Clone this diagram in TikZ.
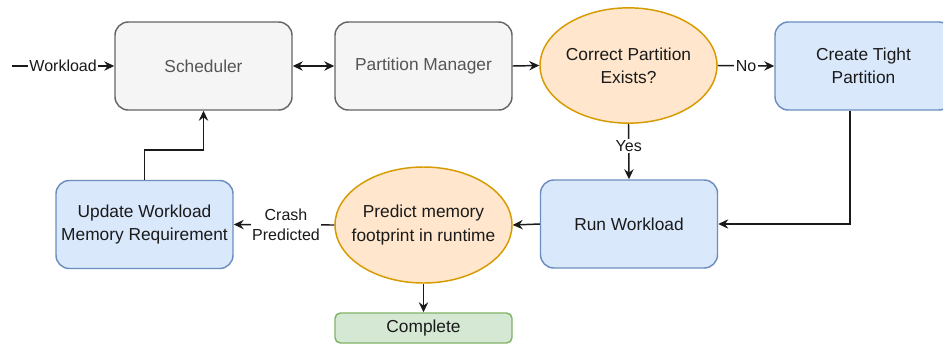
\documentclass[tikz,border=0pt]{standalone}
\usepackage{fontspec}
\setmainfont{Liberation Sans}
\usetikzlibrary{arrows.meta,shapes.geometric,calc}
\definecolor{grayfill}{HTML}{F5F5F5}
\definecolor{graystroke}{HTML}{666666}
\definecolor{graytext}{HTML}{555555}
\definecolor{bluefill}{HTML}{DAE8FC}
\definecolor{bluestroke}{HTML}{6C8EBF}
\definecolor{orangefill}{HTML}{FFE6CC}
\definecolor{orangestroke}{HTML}{D79B00}
\definecolor{greenfill}{HTML}{D5E8D4}
\definecolor{greenstroke}{HTML}{82B366}
\definecolor{txt}{HTML}{1A1A1A}
\tikzset{
  base/.style={line width=1.1pt, align=center, text=txt, font=\fontsize{13}{17.5}\selectfont, inner sep=0pt},
  graybox/.style={base, rectangle, rounded corners=10pt, draw=graystroke, fill=grayfill, text=graytext, minimum width=132.75pt, minimum height=66pt},
  bluebox/.style={base, rectangle, rounded corners=10pt, draw=bluestroke, fill=bluefill, minimum width=132.75pt, minimum height=66pt},
  orangeell/.style={base, ellipse, inner xsep=-18pt, inner ysep=-4pt, draw=orangestroke, fill=orangefill, minimum width=132.75pt, minimum height=86.5pt},
  greenbox/.style={base, rectangle, rounded corners=4pt, draw=greenstroke, fill=greenfill, minimum width=132.75pt, minimum height=22.5pt},
  conn/.style={line width=1.1pt, draw=txt, -{Stealth[length=7.5pt,width=7pt,inset=2.5pt]}},
  lbl/.style={fill=white, text=txt, font=\fontsize{12}{15}\selectfont, inner sep=1pt, align=center}
}
\begin{document}
\begin{tikzpicture}[x=0.75pt,y=-0.75pt]
\clip (0,0) rectangle (943,344);
\fill[white] (0,0) rectangle (943,344);

\node[graybox] (sched) at (203.5,66) {Scheduler};
\node[graybox] (pm) at (423.5,66) {Partition Manager};
\node[orangeell] (cpe) at (628.5,65.5) {Correct Partition\\Exists?};
\node[bluebox] (ctp) at (863.5,66) {Create Tight\\Partition};
\node[bluebox] (run) at (629,224) {Run Workload};
\node[orangeell, minimum height=87pt] (pred) at (423.5,225) {Predict memory\\footprint in runtime};
\node[bluebox] (upd) at (144.5,224.5) {Update Workload\\Memory Requirement};
\node[greenbox] (comp) at (423.5,328) {Complete};

\coordinate (win) at (12,66);
\coordinate (c1) at (850,224);
\coordinate (u1) at (144.5,150);

\draw[conn] (win) -- node[lbl] {Workload} (sched.west);
\draw[conn, {Stealth[length=7.5pt,width=7pt,inset=2.5pt]}-{Stealth[length=7.5pt,width=7pt,inset=2.5pt]}] (sched.east) -- (pm.west);
\draw[conn] (pm.east) -- (cpe.west);
\draw[conn] (cpe.east) -- node[lbl] {No} (ctp.west);
\draw[conn] (cpe.south) -- node[lbl, pos=0.4] {Yes} (run.north);
\draw[conn] (ctp.south -| c1) -- (c1) -- (run.east);
\draw[conn] (run.west) -- (pred.east);
\draw[conn] (pred.west) -- node[lbl, pos=0.48] {Crash\\Predicted} (upd.east);
\draw[conn] (pred.south) -- (comp.north);
\draw[conn] (upd.north) -- (u1) -- (u1 -| sched.south) -- (sched.south);
\end{tikzpicture}
\end{document}
